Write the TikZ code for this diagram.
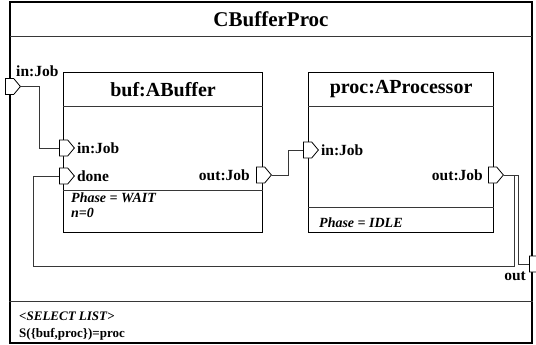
\documentclass[tikz,border=0pt]{standalone}
\usepackage{fontspec}
\setmainfont{Liberation Serif}
\usepackage{tikz}
\definecolor{linegray}{RGB}{55, 55, 55}
\usetikzlibrary{shapes.symbols, positioning, calc}

\begin{document}
\begin{tikzpicture}[
    x=1pt, y=-1pt,
    capsule/.style={draw, line width=2pt, inner sep=0pt, minimum width=522pt, minimum height=340pt},
    part/.style={draw, line width=1.2pt, inner sep=0pt, minimum height=160pt},
    head/.style={inner sep=0pt, minimum height=34pt, font=\fontsize{20}{22}\selectfont\bfseries},
    port/.style={signal, signal to=east, signal from=nowhere, signal pointer angle=100, draw, fill=white,
                 line width=0.8pt, inner sep=0pt, minimum width=15pt, minimum height=16pt},
    plabel/.style={font=\fontsize{15.5}{17}\selectfont\bfseries, inner sep=0pt},
    attr/.style={font=\fontsize{14}{16}\selectfont\bfseries\itshape, inner sep=0pt, anchor=base west},
    sep/.style={draw=linegray, line width=1pt},
    wire/.style={draw=linegray, line width=0.9pt}
]
    \useasboundingbox (0,0) rectangle (536,345);

    % Capsule with title and select list
    \node[capsule] (cbp) at (271,172.5) {};
    \node[head, minimum width=522pt, minimum height=35pt, anchor=north, font=\fontsize{21}{23}\selectfont\bfseries] (cbpt) at (cbp.north) {CBufferProc};
    \draw[sep] (cbpt.south west) -- (cbpt.south east);
    \draw[sep] ([yshift=42pt]cbp.south west) -- ([yshift=42pt]cbp.south east);
    \node[attr, font=\fontsize{13}{15}\selectfont\bfseries\itshape] (sel) at ([xshift=10pt,yshift=23pt]cbp.south west) {<SELECT LIST>};
    \node[attr, font=\fontsize{13}{15}\selectfont\bfseries] (selrule) at ([yshift=-17pt]sel.base west) {S(\{buf,proc\})=proc};

    % Parts
    \node[part, minimum width=199pt, anchor=north west] (buf) at (63,72) {};
    \node[head, minimum width=199pt, anchor=north] (buft) at (buf.north) {buf:ABuffer};
    \draw[sep] (buft.south west) -- (buft.south east);
    \draw[sep] ([yshift=43pt]buf.south west) -- ([yshift=43pt]buf.south east);
    \node[attr] (bufphase) at ([xshift=8pt,yshift=31pt]buf.south west) {Phase = WAIT};
    \node[attr] (bufn) at ([yshift=-15pt]bufphase.base west) {n=0};

    \node[part, minimum width=185pt, anchor=north west] (proc) at (308,72) {};
    \node[head, minimum width=185pt, anchor=north] (proct) at (proc.north) {proc:AProcessor};
    \draw[sep] (proct.south west) -- (proct.south east);
    \draw[sep] ([yshift=26pt]proc.south west) -- ([yshift=26pt]proc.south east);
    \node[attr] (procphase) at ([xshift=11pt,yshift=5.5pt]proc.south west) {Phase = IDLE};

    % Ports
    \node[port, anchor=west] (ctxin) at (5,86.5) {};
    \node[port, anchor=west] (bufin) at (59,148) {};
    \node[port, anchor=west] (bufdone) at (59,176) {};
    \node[port, anchor=west] (bufout) at (256,175) {};
    \node[port, anchor=west] (procin) at (303,150) {};
    \node[port, anchor=west] (procout) at (488,175) {};
    \node[port, anchor=west] (ctxout) at (529,264) {};

    \node[plabel, anchor=base west] (ctxinl) at (16,77) {in:Job};
    \node[plabel, right=2pt of bufin] (bufinl) {in:Job};
    \node[plabel, right=2pt of bufdone] (bufdonel) {done};
    \node[plabel, left=6pt of bufout] (bufoutl) {out:Job};
    \node[plabel, right=2pt of procin] (procinl) {in:Job};
    \node[plabel, left=5pt of procout] (procoutl) {out:Job};
    \node[plabel, anchor=north east] (ctxoutl) at (526,272) {out};

    % Connectors
    \draw[wire] (ctxin.east) -- ++(19,0) |- (bufin.west);
    \draw[wire] (bufout.east) -- ++(17,0) |- (procin.west);
    \draw[wire] (procout.east) -- ++(15,0) |- (ctxout.west);
    \draw[wire] (procout.east) -- ++(11,0) -- ++(0,91) -| ([xshift=-26pt]bufdone.west) -- (bufdone.west);
\end{tikzpicture}
\end{document}
